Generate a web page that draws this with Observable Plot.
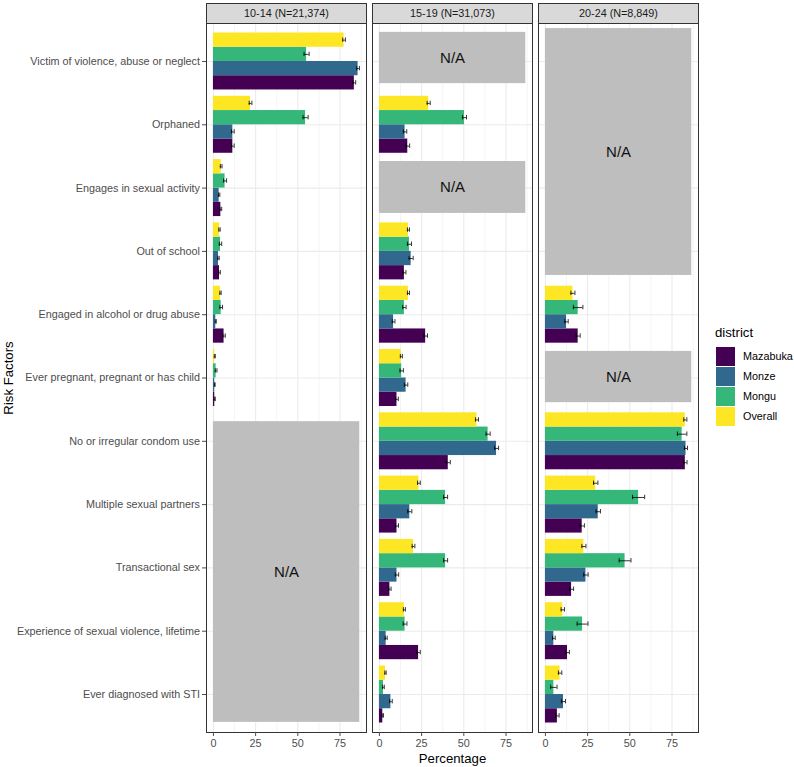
<!DOCTYPE html>
<html><head><meta charset="utf-8">
<script src="https://cdn.jsdelivr.net/npm/d3@7"></script>
<script src="https://cdn.jsdelivr.net/npm/@observablehq/plot@0.6"></script>
<style>
body{margin:0;background:#fff;}
#wrap{position:relative;width:794px;height:767px;font-family:"Liberation Sans",Arial,sans-serif;}
#legend{position:absolute;left:715px;top:0;}
.lt{position:absolute;left:0;top:325px;font-size:13.2px;color:#000;white-space:nowrap;line-height:16px;}
.sw{position:absolute;left:1px;width:19px;height:19px;}
.lab{position:absolute;left:28px;font-size:10.8px;color:#000;line-height:19px;white-space:nowrap;}
</style></head><body><div id="wrap"></div>
<script>
// ---- data ----
const ageGroups = ["10-14", "15-19", "20-24"];
const ageLabels = ["10-14 (N=21,374)", "15-19 (N=31,073)", "20-24 (N=8,849)"];
const riskFactors = [
  "Victim of violence, abuse or neglect",
  "Orphaned",
  "Engages in sexual activity",
  "Out of school",
  "Engaged in alcohol or drug abuse",
  "Ever pregnant, pregnant or has child",
  "No or irregular condom use",
  "Multiple sexual partners",
  "Transactional sex",
  "Experience of sexual violence, lifetime",
  "Ever diagnosed with STI"
];
const districts = ["Mazabuka", "Monze", "Mongu", "Overall"];
const districtColors = ["#440154", "#31688E", "#35B779", "#FDE725"];
const xTicks = [0, 25, 50, 75];
const xMinorTicks = [12.5, 37.5, 62.5, 87.5];

// percentages (null = N/A)
const mazabuka_10_14 = [83.5, 11.5, 4.4, 3.6, 6.3, 0.8, null, null, null, null, null];
const monze_10_14    = [85.7, 11.5, 3.4, 3.0, 1.4, 0.8, null, null, null, null, null];
const mongu_10_14    = [55.2, 54.6, 6.9, 4.2, 4.6, 1.6, null, null, null, null, null];
const overall_10_14  = [77.4, 22.0, 4.6, 3.6, 4.2, 0.8, null, null, null, null, null];

const mazabuka_15_19 = [null, 16.8, null, 14.8, 27.4, 10.4, 40.8, 10.4, 6.2, 23.2, 2.0];
const monze_15_19    = [null, 15.2, null, 18.8, 8.4, 15.8, 69.4, 18.0, 10.4, 4.0, 6.8];
const mongu_15_19    = [null, 50.4, null, 17.8, 14.8, 13.2, 64.4, 39.2, 39.2, 15.2, 2.4];
const overall_15_19  = [null, 29.2, null, 17.2, 17.2, 13.0, 57.8, 23.4, 20.2, 14.8, 3.6];

const mazabuka_20_24 = [null, null, null, null, 19.4, null, 82.9, 21.8, 15.5, 13.1, 7.1];
const monze_20_24    = [null, null, null, null, 12.5, null, 83.3, 31.3, 24.0, 5.0, 10.7];
const mongu_20_24    = [null, null, null, null, 19.4, null, 81.0, 55.2, 47.2, 22.0, 5.0];
const overall_20_24  = [null, null, null, null, 16.3, null, 82.9, 29.8, 22.8, 10.3, 8.7];

// half-width of the error bars
const mazabukaErr_10_14 = [0.8, 0.8, 0.5, 0.5, 0.7, 0.3, null, null, null, null, null];
const monzeErr_10_14    = [0.8, 0.8, 0.4, 0.4, 0.3, 0.2, null, null, null, null, null];
const monguErr_10_14    = [1.5, 1.5, 0.9, 0.7, 0.8, 0.5, null, null, null, null, null];
const overallErr_10_14  = [0.8, 0.8, 0.5, 0.4, 0.4, 0.3, null, null, null, null, null];

const mazabukaErr_15_19 = [null, 1.1, null, 0.9, 1.1, 0.8, 1.2, 0.9, 0.7, 1.0, 0.4];
const monzeErr_15_19    = [null, 1.0, null, 1.2, 0.8, 1.0, 1.2, 1.2, 1.0, 0.6, 0.8];
const monguErr_15_19    = [null, 1.2, null, 1.2, 1.0, 1.0, 1.2, 1.2, 1.2, 1.1, 0.5];
const overallErr_15_19  = [null, 0.9, null, 0.6, 0.6, 0.6, 0.9, 0.8, 0.8, 0.6, 0.4];

const mazabukaErr_20_24 = [null, null, null, null, 1.2, null, 1.0, 1.3, 1.2, 1.1, 1.0];
const monzeErr_20_24    = [null, null, null, null, 1.0, null, 0.9, 1.3, 1.3, 0.8, 1.2];
const monguErr_20_24    = [null, null, null, null, 2.8, null, 2.8, 3.6, 3.5, 3.2, 1.9];
const overallErr_20_24  = [null, null, null, null, 1.2, null, 0.9, 1.3, 1.2, 1.0, 1.0];

// N/A blocks (extent in risk-factor positions)
const naAge    = ["10-14", "15-19", "15-19", "20-24", "20-24"];
const naTop    = [5.69, -0.46, 1.58, -0.52, 4.58];
const naBottom = [10.44, 0.35, 2.40, 3.38, 5.39];
const naWidth  = 86.7;

// ---- build table ----
const valueSets = {
  "10-14": [mazabuka_10_14, monze_10_14, mongu_10_14, overall_10_14],
  "15-19": [mazabuka_15_19, monze_15_19, mongu_15_19, overall_15_19],
  "20-24": [mazabuka_20_24, monze_20_24, mongu_20_24, overall_20_24]
};
const errSets = {
  "10-14": [mazabukaErr_10_14, monzeErr_10_14, monguErr_10_14, overallErr_10_14],
  "15-19": [mazabukaErr_15_19, monzeErr_15_19, monguErr_15_19, overallErr_15_19],
  "20-24": [mazabukaErr_20_24, monzeErr_20_24, monguErr_20_24, overallErr_20_24]
};
const dodge = 0.9, nd = districts.length, bw = dodge / nd;
const rows = [];
for (const age of ageGroups) {
  districts.forEach((d, di) => {
    const vals = valueSets[age][di], errs = errSets[age][di];
    vals.forEach((v, i) => {
      if (v == null) return;
      const k = nd - 1 - di; // Overall on top, Mazabuka at bottom
      const y1 = i - dodge / 2 + k * bw;
      rows.push({age, district: d, factor: i, value: v, lo: v - errs[i], hi: v + errs[i],
                 y1, y2: y1 + bw, yc: y1 + bw / 2});
    });
  });
}
const naRows = naAge.map((a, j) => ({age: a, y1: naTop[j], y2: naBottom[j], yc: (naTop[j] + naBottom[j]) / 2}));
const strips = ageGroups.map((a, j) => ({age: a, label: ageLabels[j]}));
const capH = 0.035;
const grid = "#EBEBEB";

const chart = Plot.plot({
  width: 794,
  height: 767,
  marginLeft: 206,
  marginRight: 96,
  marginTop: 23,
  marginBottom: 35,
  style: {fontFamily: '"Liberation Sans", Arial, sans-serif', fontSize: "10.8px", background: "#fff"},
  fx: {domain: ageGroups, axis: null, paddingInner: 0.0361, paddingOuter: 0, round: false},
  x: {domain: [-4.1, 90.7]},
  y: {domain: [-0.6, 10.6], reverse: true},
  color: {domain: districts, range: districtColors},
  marks: [
    Plot.ruleX(xMinorTicks, {stroke: grid, strokeWidth: 0.55}),
    Plot.ruleX(xTicks, {stroke: grid, strokeWidth: 1.1}),
    Plot.ruleY(d3.range(riskFactors.length), {stroke: grid, strokeWidth: 1.1}),
    Plot.rect(naRows, {fx: "age", x1: 0, x2: naWidth, y1: "y1", y2: "y2", fill: "#BEBEBE"}),
    Plot.rect(rows, {fx: "age", x1: 0, x2: "value", y1: "y1", y2: "y2", fill: "district"}),
    Plot.ruleY(rows, {fx: "age", y: "yc", x1: "lo", x2: "hi", stroke: "#000", strokeWidth: 0.8}),
    Plot.ruleX(rows, {fx: "age", x: "lo", y1: d => d.yc - capH, y2: d => d.yc + capH, stroke: "#000", strokeWidth: 0.8}),
    Plot.ruleX(rows, {fx: "age", x: "hi", y1: d => d.yc - capH, y2: d => d.yc + capH, stroke: "#000", strokeWidth: 0.8}),
    Plot.text(naRows, {fx: "age", x: naWidth / 2, y: "yc", text: () => "N/A", fontSize: 15, fill: "#111"}),
    Plot.frame({stroke: "#333", strokeWidth: 1}),
    Plot.frame({fill: "#D9D9D9", stroke: "#333", strokeWidth: 1, insetTop: -20, insetBottom: 709}),
    Plot.text(strips, {fx: "age", text: "label", frameAnchor: "top", lineAnchor: "middle", dy: -10, fontSize: 10.8, fill: "#1A1A1A"}),
    Plot.axisX({ticks: xTicks, tickSize: 4, tickPadding: 3, label: null, fontSize: 10.8, color: "#4D4D4D"}),
    Plot.axisY({ticks: d3.range(riskFactors.length), tickFormat: i => riskFactors[i], tickSize: 4, tickPadding: 2.5, label: null, fontSize: 10.8, color: "#4D4D4D"}),
    Plot.text(["Percentage"], {fx: () => "15-19", frameAnchor: "bottom", lineAnchor: "middle", dy: 26, fontSize: 13.2, fill: "#000"}),
    Plot.text(["Risk Factors"], {fx: () => "10-14", frameAnchor: "left", textAnchor: "middle", lineAnchor: "middle", rotate: -90, dx: -198, fontSize: 13.2, fill: "#000"})
  ]
});

const wrap = document.getElementById("wrap");
wrap.appendChild(chart);

// legend
const legend = document.createElement("div");
legend.id = "legend";
const title = document.createElement("div");
title.className = "lt";
title.textContent = "district";
legend.appendChild(title);
districts.forEach((d, i) => {
  const sw = document.createElement("div");
  sw.className = "sw";
  sw.style.top = (347 + i * 20) + "px";
  sw.style.background = districtColors[i];
  legend.appendChild(sw);
  const lab = document.createElement("div");
  lab.className = "lab";
  lab.style.top = (347 + i * 20) + "px";
  lab.textContent = d;
  legend.appendChild(lab);
});
wrap.appendChild(legend);
</script>
</body></html>
